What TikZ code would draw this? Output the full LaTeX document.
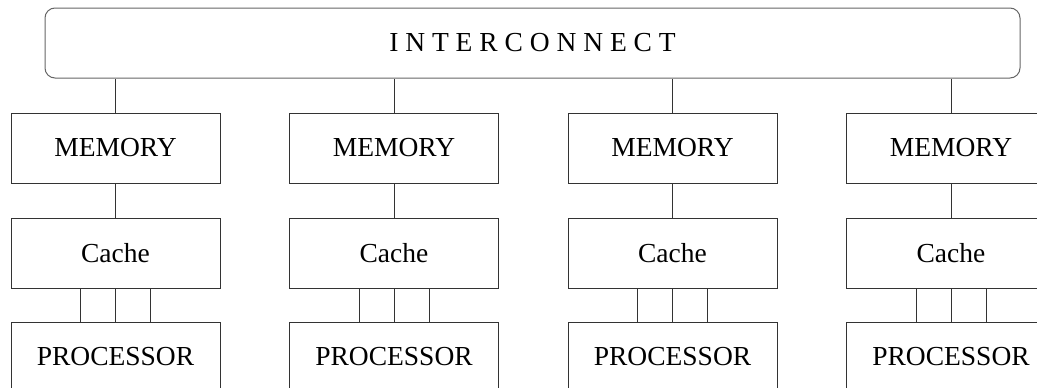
\documentclass[tikz,border=0pt]{standalone}
\usepackage{fontspec}
\setmainfont{Liberation Serif}
\begin{document}
\begin{tikzpicture}[x=1pt,y=-1pt,
  box/.style={draw=black!80,line width=1pt,minimum width=209pt,minimum height=70pt,inner sep=0pt,font=\fontsize{27.5}{30}\selectfont},
  ic/.style={draw=black!60,line width=1pt,rounded corners=10pt,minimum width=975pt,minimum height=70pt,inner sep=0pt,font=\fontsize{27.5}{30}\selectfont},
  wire/.style={draw=black!80,line width=1pt}]
\useasboundingbox (0,0) rectangle (1037,388);
\clip (0,0) rectangle (1037,388);
\fill[white] (0,0) rectangle (1037,388);
\node[ic] (ic) at (532.5,43) {I N T E R C O N N E C T};
\foreach \i/\x in {1/115.5,2/394,3/672.5,4/951}{
  \node[box] (m\i) at (\x,148) {MEMORY};
  \node[box] (c\i) at (\x,253) {Cache};
  \node[box] (p\i) at (\x,357) {PROCESSOR};
  \draw[wire] (m\i.north) -- (m\i.north |- ic.south);
  \draw[wire] (m\i.south) -- (c\i.north);
  \draw[wire] (c\i.south) -- (p\i.north);
  \draw[wire] ([xshift=-35pt]c\i.south) -- ([xshift=-35pt]p\i.north);
  \draw[wire] ([xshift=35pt]c\i.south) -- ([xshift=35pt]p\i.north);
}
\end{tikzpicture}
\end{document}
